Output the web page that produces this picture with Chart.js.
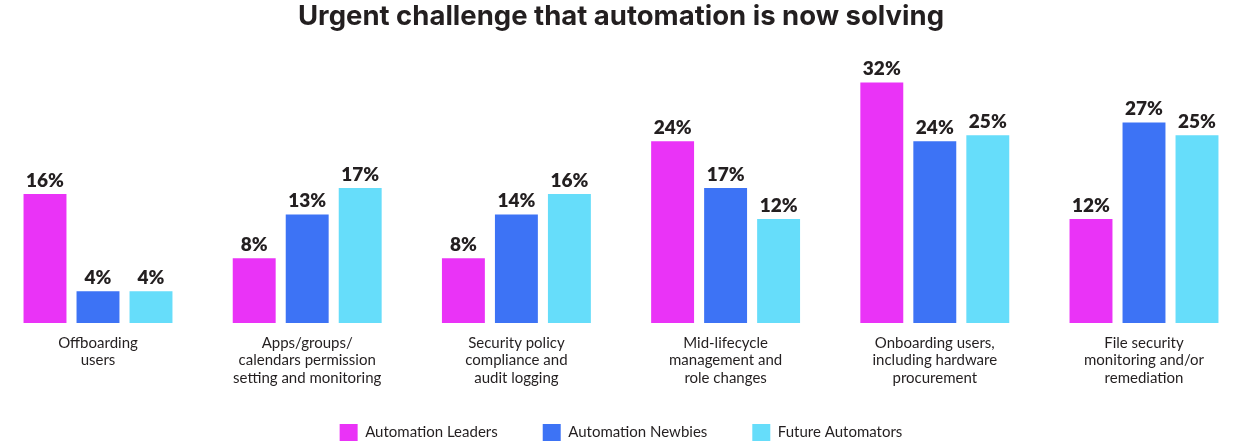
<!DOCTYPE html>
<html>
<head>
<meta charset="utf-8">
<script src="https://cdn.jsdelivr.net/npm/chart.js@4.4.1/dist/chart.umd.min.js"></script>
<style>
  html, body { margin: 0; padding: 0; background: #fff; }
  #wrap { width: 1236px; height: 447px; }
</style>
</head>
<body>
<div id="wrap"><canvas id="challenge-chart"></canvas></div>
<script>
// categories (multi-line tick labels)
const categories = [
    ["Offboarding", "users"],
    ["Apps/groups/", "calendars permission", "setting and monitoring"],
    ["Security policy", "compliance and", "audit logging"],
    ["Mid-lifecycle", "management and", "role changes"],
    ["Onboarding users,", "including hardware", "procurement"],
    ["File security", "monitoring and/or", "remediation"]
];

const seriesNames = ["Automation Leaders", "Automation Newbies", "Future Automators"];

// bar heights as drawn in the picture (percent)
const leaders = [17.1, 8.6, 8.6, 24.1, 31.9, 13.8];
const newbies = [4.2, 14.4, 14.4, 17.9, 24.1, 26.6];
const future  = [4.2, 17.9, 17.1, 13.8, 24.9, 24.9];

// percentages printed above the bars
const leadersText = [16, 8, 8, 24, 32, 12];
const newbiesText = [4, 13, 14, 17, 24, 27];
const futureText  = [4, 17, 16, 12, 25, 25];

const FONT = "Lato, 'Noto Sans', sans-serif";
const INK = '#231f20';

// draws the "16%" style labels above each bar
const valueLabels = {
    id: 'valueLabels',
    afterLayout(chart) {
        // legend items sit a bit higher than the layout puts them
        chart.legend.top -= 9;
    },
    afterDatasetsDraw(chart) {
        const texts = [leadersText, newbiesText, futureText];
        const ctx = chart.ctx;
        ctx.save();
        ctx.font = "800 19px " + FONT;
        ctx.fillStyle = INK;
        ctx.textAlign = 'center';
        ctx.textBaseline = 'alphabetic';
        chart.data.datasets.forEach((ds, i) => {
            chart.getDatasetMeta(i).data.forEach((bar, j) => {
                ctx.fillText(texts[i][j] + '%', bar.x, bar.y - 7);
            });
        });
        ctx.restore();
    }
};

const chartCanvas = document.getElementById('challenge-chart');

let chartData = {
    labels: categories,
    datasets: [{
        label: seriesNames[0],
        data: leaders,
        backgroundColor: '#EA33F7'
    }, {
        label: seriesNames[1],
        data: newbies,
        backgroundColor: '#3D73F5'
    }, {
        label: seriesNames[2],
        data: future,
        backgroundColor: '#66DDFA'
    }]
};

let chartOptions = {
    responsive: true,
    maintainAspectRatio: false,
    animation: false,
    datasets: {
        bar: {
            categoryPercentage: 0.76,
            barPercentage: 0.81,
            clip: false
        }
    },
    layout: {
        padding: { left: 98, right: 92, top: 0, bottom: 0 }
    },
    scales: {
        x: {
            offset: false,
            grid: { display: false, drawTicks: false },
            border: { display: false },
            afterFit: axis => { axis.height = 65; },
            ticks: {
                color: INK,
                padding: 11,
                maxRotation: 0,
                autoSkip: false,
                font: { family: FONT, size: 15, lineHeight: 1.17 }
            }
        },
        y: {
            display: false,
            min: 0,
            max: 34
        }
    },
    plugins: {
        title: {
            display: true,
            text: 'Urgent challenge that automation is now solving',
            color: INK,
            font: { family: "Inter, Lato, sans-serif", size: 27.5, weight: 'bold', lineHeight: 1.2 },
            padding: { top: 0, bottom: 33.6 }
        },
        legend: {
            position: 'bottom',
            maxHeight: 59,
            labels: {
                color: INK,
                boxWidth: 18,
                boxHeight: 17,
                padding: 45,
                font: { family: FONT, size: 15 }
            }
        },
        tooltip: { enabled: false }
    }
};

let challengeChart = new Chart(chartCanvas, {
    type: 'bar',
    data: chartData,
    options: chartOptions,
    plugins: [valueLabels]
});
</script>
</body>
</html>
